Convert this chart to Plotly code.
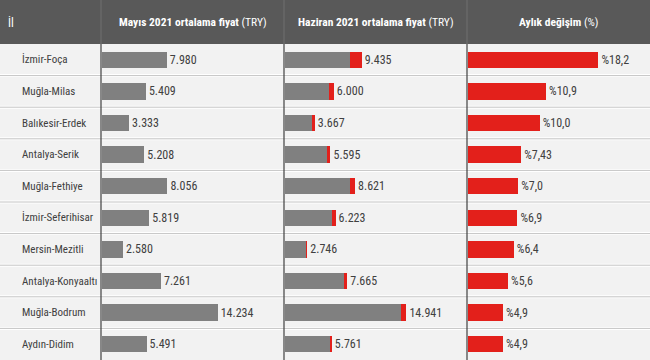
import plotly.graph_objects as go

iller = ["İzmir-Foça", "Muğla-Milas", "Balıkesir-Erdek", "Antalya-Serik", "Muğla-Fethiye",
         "İzmir-Seferihisar", "Mersin-Mezitli", "Antalya-Konyaaltı", "Muğla-Bodrum", "Aydın-Didim"]
mayis = [7980, 5409, 3333, 5208, 8056, 5819, 2580, 7261, 14234, 5491]
haziran = [9435, 6000, 3667, 5595, 8621, 6223, 2746, 7665, 14941, 5761]
degisim = [18.2, 10.9, 10.0, 7.43, 7.0, 6.9, 6.4, 5.6, 4.9, 4.9]
degisim_txt = ["%18,2", "%10,9", "%10,0", "%7,43", "%7,0", "%6,9", "%6,4", "%5,6", "%4,9", "%4,9"]
basliklar = ["İl", "<b>Mayıs 2021 ortalama fiyat</b> (TRY)", "<b>Haziran 2021 ortalama fiyat</b> (TRY)",
             "<b>Aylık değişim</b> (%)"]

W, H = 650, 360
HEAD = 44
FONT = "Liberation Sans Narrow, Roboto Condensed, Lato"
GRAY = "#808080"
RED = "#e3201b"
TXT = "#404040"

def tr(v):
    return f"{v:,}".replace(",", ".")

bounds = [0, 101, 284, 467, 650]
dom = [b / W for b in bounds]
ytop = 1 - HEAD / H

fig = go.Figure()
bw = 0.52
mline = dict(width=0)
fig.add_trace(go.Bar(y=iller, x=mayis, orientation="h", marker=dict(color=GRAY, line=mline), width=bw,
                     text=[tr(v) for v in mayis], textposition="outside", cliponaxis=False,
                     textfont=dict(family=FONT, size=12, color=TXT), xaxis="x", yaxis="y"))
fig.add_trace(go.Bar(y=iller, x=haziran, orientation="h", marker=dict(color=RED, line=mline), width=bw,
                     text=[tr(v) for v in haziran], textposition="outside", cliponaxis=False,
                     textfont=dict(family=FONT, size=12, color=TXT), xaxis="x2", yaxis="y"))
fig.add_trace(go.Bar(y=iller, x=mayis, orientation="h", marker=dict(color=GRAY, line=mline), width=bw,
                     textposition="none", xaxis="x2", yaxis="y"))
fig.add_trace(go.Bar(y=iller, x=degisim, orientation="h", marker=dict(color=RED, line=mline), width=bw,
                     text=degisim_txt, textposition="outside", cliponaxis=False,
                     textfont=dict(family=FONT, size=12, color=TXT), xaxis="x3", yaxis="y"))

axcommon = dict(showgrid=False, zeroline=False, showticklabels=False, ticks="", fixedrange=True)
fig.update_layout(
    width=W, height=H, margin=dict(l=0, r=0, t=0, b=0),
    paper_bgcolor="#f2f2f2", plot_bgcolor="rgba(0,0,0,0)",
    barmode="overlay", showlegend=False, bargap=0, hovermode=False,
    xaxis=dict(domain=[dom[1] + 0.0015, dom[2]], range=[0, 22400], anchor="y", **axcommon),
    xaxis2=dict(domain=[dom[2] + 0.0015, dom[3]], range=[0, 22400], anchor="y", **axcommon),
    xaxis3=dict(domain=[dom[3] + 0.0015, dom[4]], range=[0, 25.4], anchor="y", **axcommon),
    yaxis=dict(domain=[0, ytop], range=[9.5, -0.5], autorange=False, showticklabels=False,
               showgrid=False, zeroline=False, ticks="", fixedrange=True, type="category"),
    font=dict(family=FONT, color=TXT),
)

shapes = []
shapes.append(dict(type="rect", xref="paper", yref="paper", x0=0, x1=1, y0=ytop, y1=1,
                   fillcolor="#595959", line_width=0, layer="below"))
rowh = (H - HEAD) / 10
for i in range(1, 10):
    yp = 1 - (HEAD + i * rowh) / H
    shapes.append(dict(type="line", xref="paper", yref="paper", x0=0, x1=1, y0=yp, y1=yp,
                       line=dict(color="#ffffff", width=3), layer="below"))
    shapes.append(dict(type="line", xref="paper", yref="paper", x0=0, x1=1, y0=yp, y1=yp,
                       line=dict(color="#c4c4c4", width=1), layer="below"))
for b in bounds[1:4]:
    xp = b / W
    shapes.append(dict(type="line", xref="paper", yref="paper", x0=xp, x1=xp, y0=0, y1=ytop,
                       line=dict(color="#404040", width=1.2)))
    shapes.append(dict(type="line", xref="paper", yref="paper", x0=xp, x1=xp, y0=ytop, y1=1,
                       line=dict(color="#707070", width=1)))
fig.update_layout(shapes=shapes)

ann = []
hy = 1 - (HEAD / 2) / H
ann.append(dict(text=basliklar[0], xref="paper", yref="paper", x=6 / W, y=hy, xanchor="left",
                yanchor="middle", showarrow=False, font=dict(family=FONT, size=12, color="white")))
for k in range(1, 4):
    ann.append(dict(text=basliklar[k], xref="paper", yref="paper",
                    x=(dom[k] + dom[k + 1]) / 2, y=hy, xanchor="center", yanchor="middle",
                    showarrow=False, font=dict(family=FONT, size=11.5, color="white")))
for il in iller:
    ann.append(dict(text=il, xref="paper", yref="y", x=20 / W, y=il, xanchor="left",
                    yanchor="middle", showarrow=False, font=dict(family=FONT, size=11, color=TXT)))
fig.update_layout(annotations=ann)

fig.write_html("out.html", config={"displayModeBar": False, "staticPlot": True},
               post_script="document.body.style.margin='0';document.body.style.overflow='hidden';")
